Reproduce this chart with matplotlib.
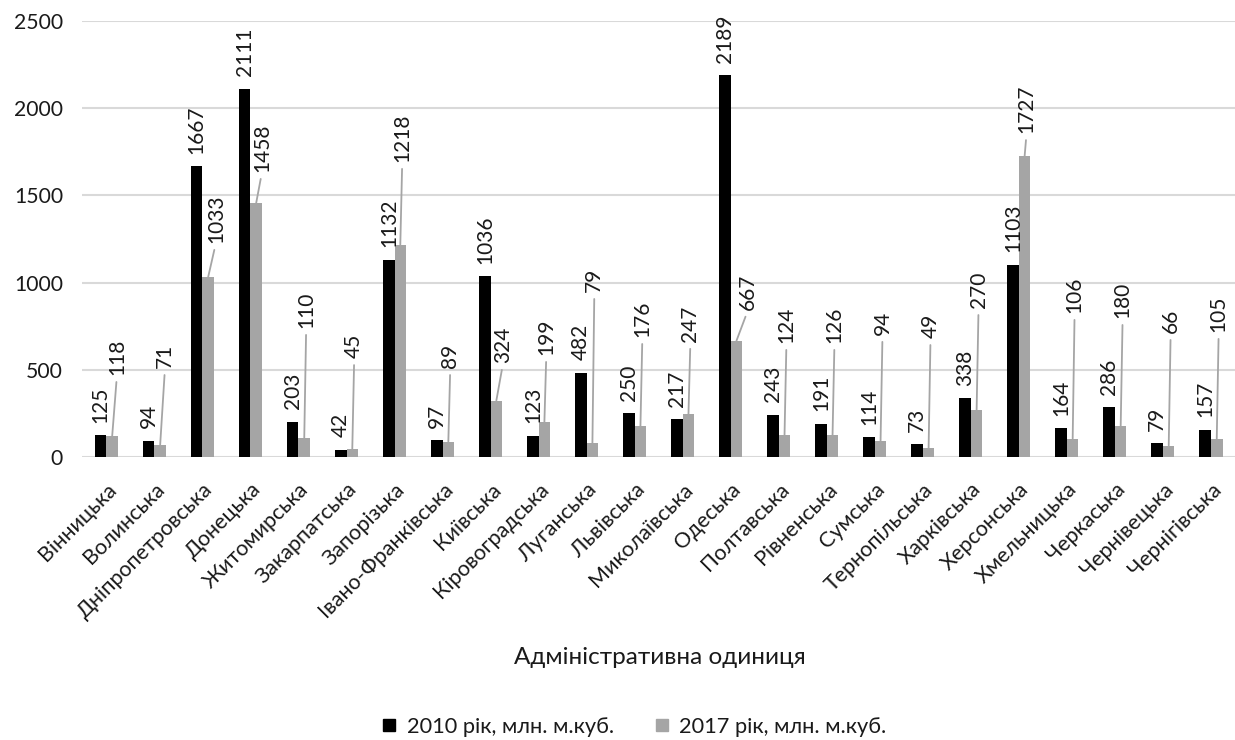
import matplotlib
matplotlib.use("Agg")
import matplotlib.pyplot as plt
from matplotlib.lines import Line2D
import numpy as np

plt.rcParams['font.family'] = ['Lato', 'Open Sans', 'DejaVu Sans']

categories = ["Вінницька", "Волинська", "Дніпропетровська", "Донецька", "Житомирська",
              "Закарпатська", "Запорізька", "Івано-Франківська", "Київська", "Кіровоградська",
              "Луганська", "Львівська", "Миколаївська", "Одеська", "Полтавська", "Рівненська",
              "Сумська", "Тернопільська", "Харківська", "Херсонська", "Хмельницька",
              "Черкаська", "Чернівецька", "Чернігівська"]
values_2010 = [125, 94, 1667, 2111, 203, 42, 1132, 97, 1036, 123, 482, 250, 217, 2189,
               243, 191, 114, 73, 338, 1103, 164, 286, 79, 157]
values_2017 = [118, 71, 1033, 1458, 110, 45, 1218, 89, 324, 199, 79, 176, 247, 667,
               124, 126, 94, 49, 270, 1727, 106, 180, 66, 105]
series_names = ["2010 рік, млн. м.куб.", "2017 рік, млн. м.куб."]
y_ticks = [0, 500, 1000, 1500, 2000, 2500]
x_title = "Адміністративна одиниця"

# placement of the 2017 data labels (moved labels with leader lines)
label_y_2017 = [470, 510, 1227, 1634, 740, 567, 1692, 510, 539, 585, 946, 688, 660, 843,
                654, 654, 700, 682, 854, 1857, 826, 797, 711, 717]
label_dx_2017 = [0.06, 0.06, 0.12, 0.08, 0, 0, 0, 0, 0.10, 0, 0, 0, 0, 0.20,
                 0, 0, 0, 0, 0, 0, 0, 0, 0, 0]

BLACK = "#000000"
GRAY = "#a5a5a5"
TXT = "#1a1a1a"

fig = plt.figure(figsize=(12.35, 7.4), dpi=100)
ax = fig.add_axes([0.0667, 0.3824, 0.9333, 0.5892])

x = np.arange(len(categories))
w = 0.24
ax.bar(x - w / 2, values_2010, w, color=BLACK, zorder=3)
ax.bar(x + w / 2, values_2017, w, color=GRAY, zorder=3)

ax.set_xlim(-0.5, len(categories) - 0.5)
ax.set_ylim(0, 2500)
ax.set_yticks(y_ticks)
ax.yaxis.grid(True, color="#d9d9d9", linewidth=1.5, zorder=0)
for s in ax.spines.values():
    s.set_visible(False)
ax.tick_params(axis='both', length=0, colors=TXT)
ax.tick_params(axis='y', pad=14, labelsize=15.2)
ax.set_xticks(x)
ax.set_xticklabels(categories, rotation=45, ha='right', va='top',
                   rotation_mode='anchor', fontsize=15.5)
ax.tick_params(axis='x', pad=16)

for xi, v in zip(x, values_2010):
    ax.annotate(str(v), xy=(xi - w / 2, v), xytext=(0, 9), textcoords='offset points',
                rotation=90, ha='center', va='bottom', fontsize=15, color=TXT)

for xi, v, ly, dx in zip(x, values_2017, label_y_2017, label_dx_2017):
    ax.annotate(str(v), xy=(xi + w / 2, v), xytext=(xi + w / 2 + dx + 0.04, ly),
                textcoords='data', rotation=90, ha='center', va='bottom',
                fontsize=15, color=TXT,
                arrowprops=dict(arrowstyle='-', color=GRAY, lw=1.3,
                                shrinkA=3, shrinkB=0, relpos=(0.5, 0.0)))

fig.text(0.534, 1 - 657 / 740, x_title, ha='center', va='center', fontsize=17.5, color=TXT)

handles = [Line2D([], [], marker='s', linestyle='', color=BLACK, markersize=8.5),
           Line2D([], [], marker='s', linestyle='', color=GRAY, markersize=8.5)]
fig.legend(handles, series_names, loc='center', bbox_to_anchor=(0.513, 1 - 727 / 740),
           ncol=2, frameon=False, fontsize=15.7, handletextpad=0.4, columnspacing=1.8,
           handlelength=0.8, labelcolor=TXT)

fig.savefig("out.png", dpi=100)
